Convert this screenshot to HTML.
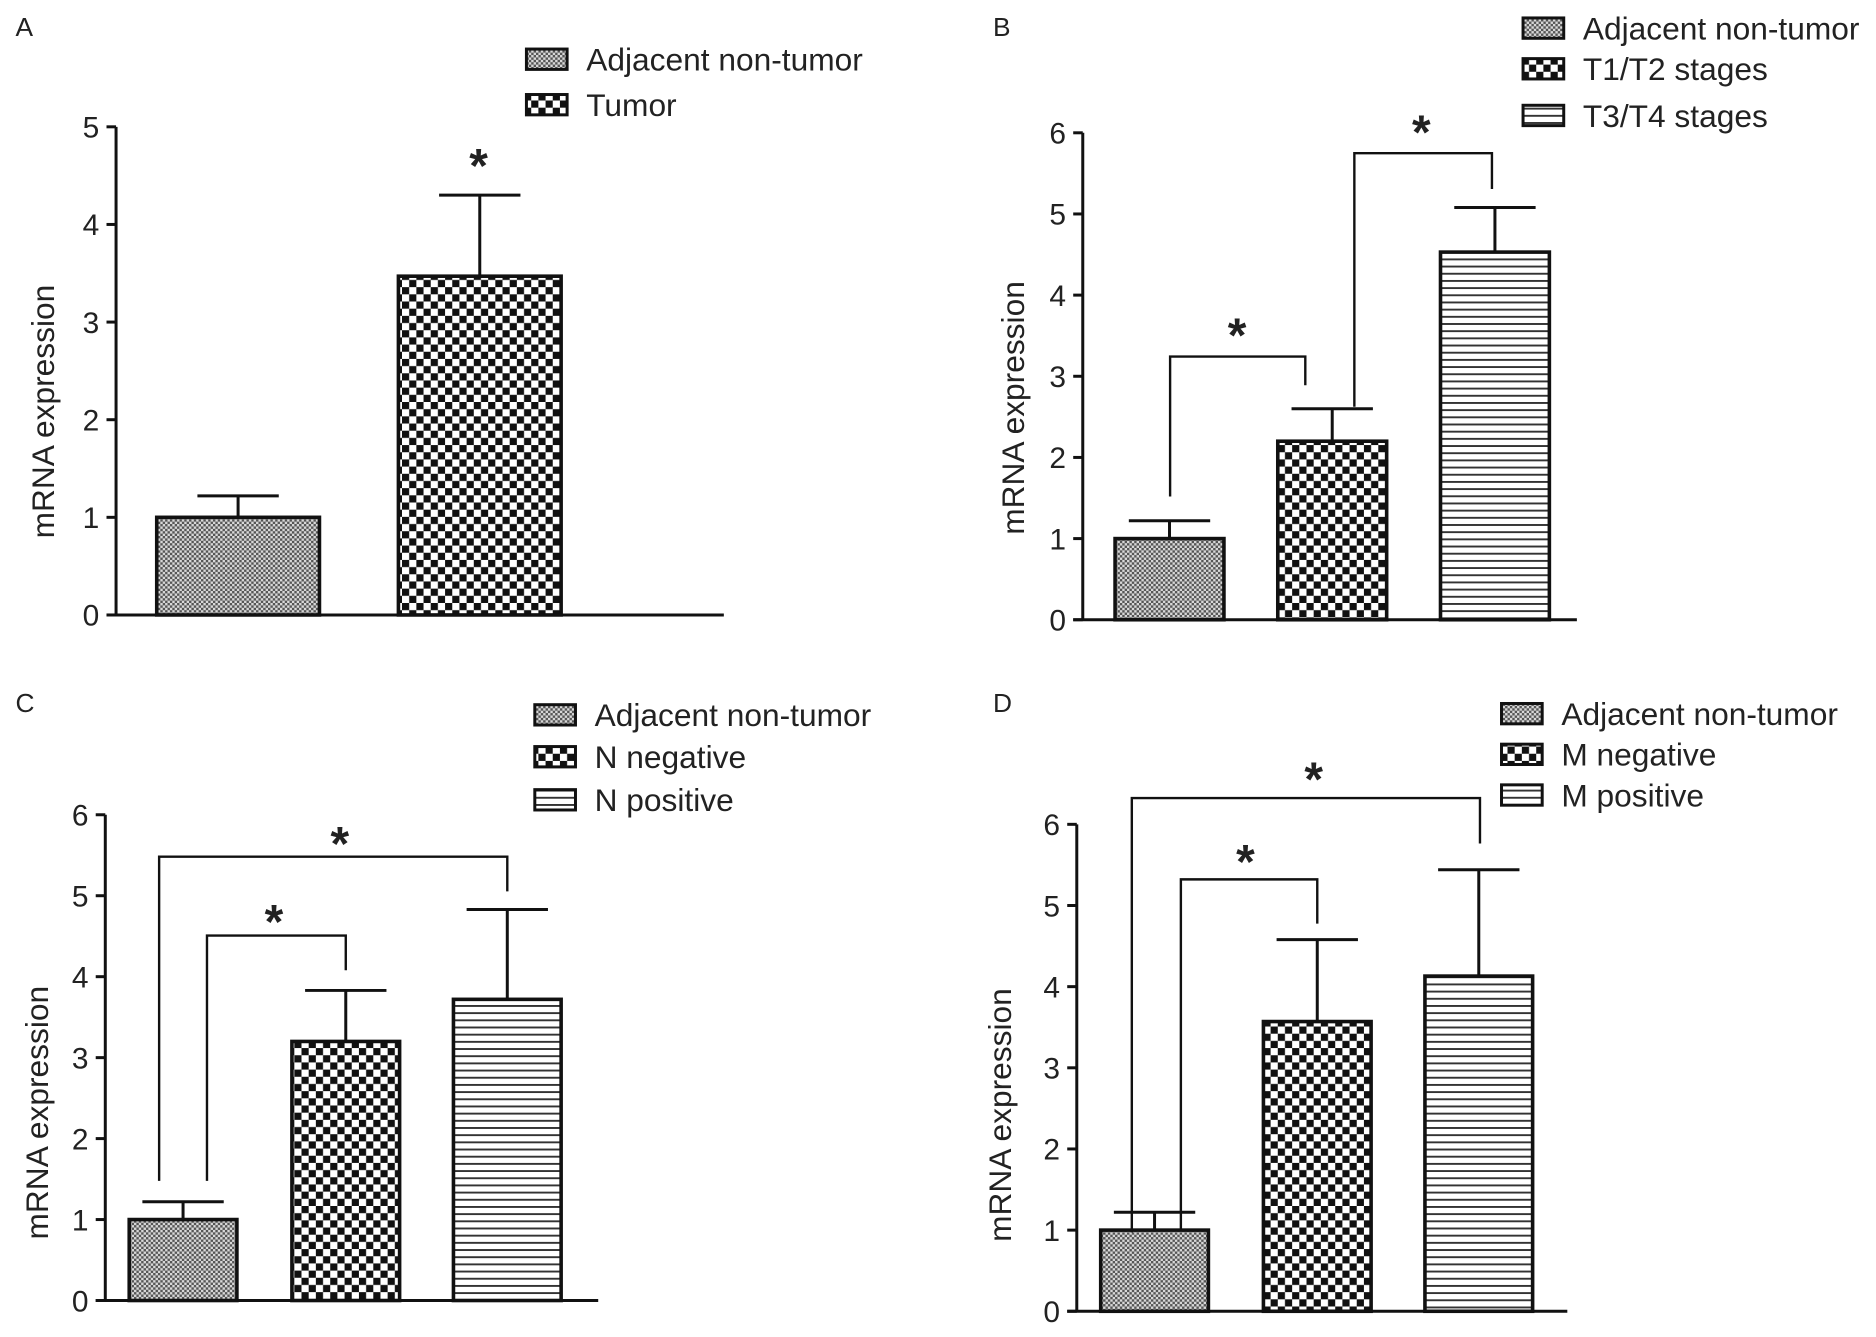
<!DOCTYPE html>
<html><head><meta charset="utf-8"><style>
html,body{margin:0;padding:0;background:#fff}
svg{display:block}
text{font-family:"Liberation Sans",sans-serif;fill:#222}
</style></head><body>
<svg id="fig" width="1876" height="1337" viewBox="0 0 1568 1117.5" xmlns="http://www.w3.org/2000/svg">
<defs>
<pattern id="pFine" width="4" height="4" patternUnits="userSpaceOnUse"><rect width="4" height="4" fill="#d8d8d8"/><rect width="2" height="2" fill="#555"/><rect x="2" y="2" width="2" height="2" fill="#555"/></pattern>
<pattern id="pCheck" width="12" height="12" patternUnits="userSpaceOnUse"><rect width="12" height="12" fill="#fff"/><rect width="6" height="6" fill="#111"/><rect x="6" y="6" width="6" height="6" fill="#111"/></pattern>
<pattern id="pStripe" width="6" height="6" patternUnits="userSpaceOnUse"><rect width="6" height="6" fill="#fff"/><rect y="0" width="6" height="1.6" fill="#333"/></pattern>
</defs>
</svg>
<script>
const aCats=["Adjacent non-tumor","Tumor"];
const aVals=[1.0,3.47];
const aErr=[1.22,4.3];
const bCats=["Adjacent non-tumor","T1/T2 stages","T3/T4 stages"];
const bVals=[1.0,2.2,4.53];
const bErr=[1.22,2.6,5.08];
const cCats=["Adjacent non-tumor","N negative","N positive"];
const cVals=[1.0,3.2,3.72];
const cErr=[1.22,3.83,4.83];
const dCats=["Adjacent non-tumor","M negative","M positive"];
const dVals=[1.0,3.57,4.13];
const dErr=[1.22,4.58,5.44];
const aTicks=[0,1,2,3,4,5];
const bcdTicks=[0,1,2,3,4,5,6];

const NS="http://www.w3.org/2000/svg";
const svg=document.getElementById('fig');
const fills=["url(#pFine)","url(#pCheck)","url(#pStripe)"];
function mk(tag,attrs,parent){const e=document.createElementNS(NS,tag);for(const k in attrs)e.setAttribute(k,attrs[k]);(parent||svg).appendChild(e);return e;}

function panel(cfg,cats,vals,errs,ticks){
  const g=mk('g',{});
  
  
  const max=ticks[ticks.length-1];
  const y=v=>cfg.y0-(cfg.y0-cfg.yTop)*v/max;
  const lab=mk('text',{x:cfg.labX,y:cfg.labY,'font-size':22},g);lab.textContent=cfg.id;
  
  
  const ax=mk('line',{x1:cfg.ax,y1:y(max),x2:cfg.ax,y2:cfg.y0,stroke:'#111','stroke-width':2.5},g);
  
  
  const xa=mk('line',{x1:cfg.ax-8,y1:cfg.y0,x2:cfg.xEnd,y2:cfg.y0,stroke:'#111','stroke-width':2.5},g);
  
  
  ticks.forEach(t=>{
    mk('line',{x1:cfg.ax-8,y1:y(t),x2:cfg.ax,y2:y(t),stroke:'#111','stroke-width':2.5},g);
    const tl=mk('text',{x:cfg.ax-14,y:y(t)+9,'font-size':25,'text-anchor':'end'},g);tl.textContent=t;
    
    
  });
  const yl=mk('text',{x:0,y:0,'font-size':26.5,'text-anchor':'middle',transform:`translate(${cfg.ylX},${cfg.ylY}) rotate(-90)`},g);
  yl.textContent='mRNA expression';
  
  
  cats.forEach((c,i)=>{
    const x0=cfg.bx[i], w=cfg.bw, cx=x0+w/2;
    const eb=mk('path',{d:`M${cx} ${y(vals[i])}V${y(errs[i])}M${cx-34} ${y(errs[i])}H${cx+34}`,stroke:'#111','stroke-width':2.5,fill:'none'},g);
    
    
    const r=mk('rect',{x:x0,y:y(vals[i]),width:w,height:cfg.y0-y(vals[i]),fill:fills[cfg.fillIdx[i]],stroke:'#111','stroke-width':3},g);
    
    
    const lb=mk('rect',{x:cfg.legX,y:cfg.legY[i]-9,width:34,height:17,fill:fills[cfg.fillIdx[i]],stroke:'#111','stroke-width':2.5},g);
    
    
    const lt=mk('text',{x:cfg.legX+50,y:cfg.legY[i]+9,'font-size':26.5},g);lt.textContent=c;
    
    
  });
  (cfg.br||[]).forEach(b=>{
    const p=mk('path',{d:`M${b[0]} ${b[1]}V${b[2]}H${b[3]}V${b[4]}`,stroke:'#111','stroke-width':2,fill:'none'},g);
    
    
  });
  (cfg.stars||[]).forEach(s=>{
    const t=mk('text',{x:s[0],y:s[1]+22,'font-size':40,'text-anchor':'middle','font-weight':'bold'},g);t.textContent='*';
    
    
  });
}
panel({id:'A',labX:13,labY:30,ax:97,y0:514,yTop:106,xEnd:605,ylX:45,ylY:344,bx:[131,333],bw:136,fillIdx:[0,1],legX:440,legY:[50,88],stars:[[400,130]]},aCats,aVals,aErr,aTicks);
panel({id:'B',labX:830,labY:30,ax:905,y0:518,yTop:111,xEnd:1318,ylX:856,ylY:341,bx:[932,1068,1204],bw:91,fillIdx:[0,1,2],legX:1273,legY:[24,58,97],
  br:[[978,415,298,1091,322],[1132,340,128,1247,158]],stars:[[1034,272],[1188,102]]},bCats,bVals,bErr,bcdTicks);
panel({id:'C',labX:13,labY:595,ax:88,y0:1087,yTop:681,xEnd:500,ylX:40,ylY:930,bx:[108,244,379],bw:90,fillIdx:[0,1,2],legX:447,legY:[598,633,669],
  br:[[133,987,716,424,745],[173,987,782,289,811]],stars:[[284,697],[229,762]]},cCats,cVals,cErr,bcdTicks);
panel({id:'D',labX:830,labY:595,ax:900,y0:1096,yTop:689,xEnd:1310,ylX:845,ylY:932,bx:[920,1056,1191],bw:90,fillIdx:[0,1,2],legX:1255,legY:[597,631,665],
  br:[[946,1030,667,1237,705],[987,1027,735,1101,772]],stars:[[1098,643],[1041,712]]},dCats,dVals,dErr,bcdTicks);
</script>
</body></html>
